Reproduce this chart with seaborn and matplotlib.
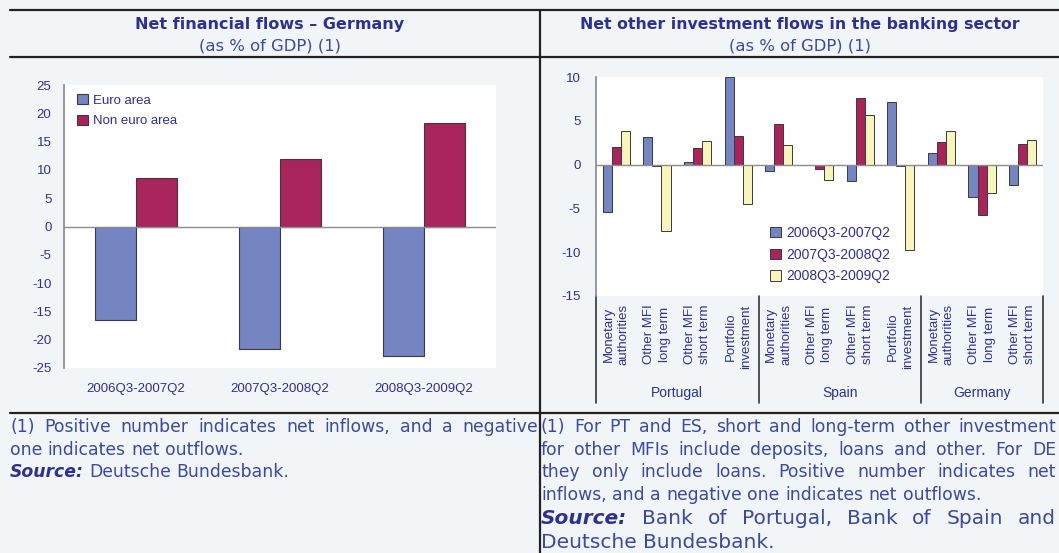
import numpy as np
import pandas as pd
import matplotlib
matplotlib.use('Agg')
import matplotlib.pyplot as plt
import matplotlib.transforms as mtransforms
from matplotlib import font_manager
import seaborn as sns

# Left chart: net financial flows, Germany (% of GDP)
periods = ['2006Q3-2007Q2', '2007Q3-2008Q2', '2008Q3-2009Q2']
areas = ['Euro area', 'Non euro area']
euro_area = [-16.6, -21.7, -22.8]
non_euro_area = [8.6, 12.0, 18.3]

# Right chart: net other investment flows in the banking sector (% of GDP)
countries = ['Portugal', 'Spain', 'Germany']
pt_items = ['Monetary\nauthorities', 'Other MFI\nlong term', 'Other MFI\nshort term', 'Portfolio\ninvestment']
es_items = ['Monetary\nauthorities', 'Other MFI\nlong term', 'Other MFI\nshort term', 'Portfolio\ninvestment']
de_items = ['Monetary\nauthorities', 'Other MFI\nlong term', 'Other MFI\nshort term']
windows = ['2006Q3-2007Q2', '2007Q3-2008Q2', '2008Q3-2009Q2']
flows_0607 = [-5.4, 3.2, 0.3, 10.0, -0.7, -0.1, -1.9, 7.2, 1.3, -3.7, -2.3]
flows_0708 = [2.0, -0.2, 1.9, 3.3, 4.6, -0.5, 7.6, -0.2, 2.6, -5.8, 2.3]
flows_0809 = [3.8, -7.6, 2.7, -4.5, 2.2, -1.8, 5.7, -9.7, 3.8, -3.2, 2.8]

BG = '#F2F5F7'
NAVY = '#2E3190'
TEXT = '#3B49A0'
BAR_COLORS = ['#7585C2', '#A8245A', '#F7F5BC']
EDGE = '#3a3a3a'

# narrow font for the axis text if there is one, else plain Liberation Sans a bit smaller
names = {f.name for f in font_manager.fontManager.ttflist}
if 'Liberation Sans Narrow' in names:
    TICK_FONT = ['Liberation Sans Narrow', 'DejaVu Sans']
    TS = 10.5
else:
    TICK_FONT = ['Liberation Sans', 'DejaVu Sans']
    TS = 9

sns.set_theme(style='white')
plt.rcParams['font.family'] = ['DejaVu Sans']
plt.rcParams['axes.unicode_minus'] = False

W, H = 1059, 553
fig = plt.figure(figsize=(W / 100, H / 100), dpi=100, facecolor=BG)


def fx(x):
    return x / W


def fy(y):
    return 1 - y / H


def axes_px(left, top, right, bottom):
    return fig.add_axes([fx(left), fy(bottom), (right - left) / W, (bottom - top) / H])


# frame lines of the page
for y in [10, 57, 413]:
    fig.add_artist(plt.Line2D([fx(10), 1], [fy(y), fy(y)], color='#222222', lw=1.6))
fig.add_artist(plt.Line2D([fx(540), fx(540)], [fy(10), 0], color='#222222', lw=1.6))

# headers
fig.text(fx(270), fy(24), 'Net financial flows \u2013 Germany', ha='center', va='center',
         fontsize=11.5, fontweight='bold', color=NAVY)
fig.text(fx(270), fy(46), '(as % of GDP) (1)', ha='center', va='center', fontsize=11.8, color=TEXT)
fig.text(fx(800), fy(24), 'Net other investment flows in the banking sector', ha='center', va='center',
         fontsize=11.3, fontweight='bold', color=NAVY)
fig.text(fx(800), fy(46), '(as % of GDP) (1)', ha='center', va='center', fontsize=11.8, color=TEXT)

# ---------------- left chart
df_left = pd.DataFrame({
    'period': periods * 2,
    'area': [areas[0]] * 3 + [areas[1]] * 3,
    'value': euro_area + non_euro_area,
})
ax1 = axes_px(64, 85, 496, 368)
sns.barplot(data=df_left, x='period', y='value', hue='area', hue_order=areas, order=periods,
            palette=BAR_COLORS[:2], saturation=1, width=0.57, edgecolor=EDGE, linewidth=0.8, ax=ax1)
ax1.set_facecolor('white')
ax1.set_ylim(-25, 25)
ax1.set_yticks(range(-25, 26, 5))
ax1.axhline(0, color='#8c8c8c', lw=1)
ax1.set_xlabel('')
ax1.set_ylabel('')
for s in ['top', 'right', 'bottom']:
    ax1.spines[s].set_visible(False)
ax1.spines['left'].set_color('#8c8c8c')
ax1.tick_params(axis='both', length=0, colors=NAVY, labelsize=TS + 0.5)
ax1.tick_params(axis='y', pad=9)
ax1.tick_params(axis='x', pad=11)
for lab in ax1.get_xticklabels() + ax1.get_yticklabels():
    lab.set_family(TICK_FONT)
h, l = ax1.get_legend_handles_labels()
ax1.legend(h, l, loc='upper left', bbox_to_anchor=(fx(77), fy(94)), bbox_transform=fig.transFigure,
           frameon=False, borderpad=0, borderaxespad=0, handlelength=0.8, handleheight=0.8,
           handletextpad=0.4, labelspacing=0.6, prop={'family': TICK_FONT, 'size': TS + 0.5},
           labelcolor=NAVY)

# ---------------- right chart
cats = []
labels = []
for c, items in zip(countries, [pt_items, es_items, de_items]):
    for it in items:
        cats.append(c + ' ' + it)
        labels.append(it)
df_right = pd.DataFrame({
    'cat': cats * 3,
    'window': [windows[0]] * len(cats) + [windows[1]] * len(cats) + [windows[2]] * len(cats),
    'value': flows_0607 + flows_0708 + flows_0809,
})
ax2 = axes_px(596, 77, 1043, 296)
sns.barplot(data=df_right, x='cat', y='value', hue='window', order=cats, hue_order=windows,
            palette=BAR_COLORS, saturation=1, width=0.67, edgecolor=EDGE, linewidth=0.7, ax=ax2)
ax2.set_facecolor('white')
ax2.set_ylim(-15, 10)
ax2.set_yticks(range(-15, 11, 5))
ax2.set_xlim(-0.5, len(cats) - 0.5)
ax2.axhline(0, color='#8c8c8c', lw=1)
ax2.set_xlabel('')
ax2.set_ylabel('')
for s in ['top', 'right', 'bottom']:
    ax2.spines[s].set_visible(False)
ax2.spines['left'].set_color('#8c8c8c')
ax2.tick_params(axis='both', length=0, colors=NAVY, labelsize=TS + 0.5)
ax2.tick_params(axis='y', pad=11)
ax2.tick_params(axis='x', pad=6)
ax2.set_xticks(range(len(cats)))
ax2.set_xticklabels(labels, rotation=90, va='top', ha='center', multialignment='center',
                    linespacing=1.35, fontsize=TS + 0.5)
for lab in ax2.get_xticklabels() + ax2.get_yticklabels():
    lab.set_family(TICK_FONT)

blend = mtransforms.blended_transform_factory(ax2.transData, ax2.transAxes)
bounds = [-0.5, 3.5, 7.5, 10.5]
for b in bounds:
    ax2.plot([b, b], [0, -0.49], transform=blend, color='#333333', lw=1.2, clip_on=False)
for i, c in enumerate(countries):
    ax2.text((bounds[i] + bounds[i + 1]) / 2, -0.444, c, transform=blend, ha='center', va='center',
             fontsize=TS + 1, color=NAVY, family=TICK_FONT)
h, l = ax2.get_legend_handles_labels()
ax2.legend(h, l, loc='upper left', bbox_to_anchor=(fx(770), fy(226)), bbox_transform=fig.transFigure,
           frameon=False, borderpad=0, borderaxespad=0, handlelength=0.8, handleheight=0.8,
           handletextpad=0.4, labelspacing=0.55, prop={'family': TICK_FONT, 'size': TS + 1},
           labelcolor=NAVY)


# ---------------- footnotes
def text_line(x0, y, words, size, x1=None, n_bold=0):
    r = fig.canvas.get_renderer()
    items = []
    for i, w in enumerate(words):
        style = dict(fontsize=size, color=TEXT, va='center', ha='left')
        if i < n_bold:
            style.update(fontweight='bold', fontstyle='italic', color=NAVY)
        t = fig.text(fx(x0), fy(y), w, **style)
        items.append((t, t.get_window_extent(r).width))
    p1 = fig.text(0, 0, 'x x', fontsize=size)
    p2 = fig.text(0, 0, 'xx', fontsize=size)
    space = p1.get_window_extent(r).width - p2.get_window_extent(r).width
    p1.remove()
    p2.remove()
    total = sum(wd for _, wd in items)
    gap = space
    if x1 is not None and len(items) > 1:
        gap = max((x1 - x0 - total) / (len(items) - 1), space * 0.6)
    x = x0
    for t, wd in items:
        t.set_x(fx(x))
        x += wd + gap


fs = 12.4
text_line(10, 427, '(1) Positive number indicates net inflows, and a negative'.split(), fs, x1=538)
text_line(10, 450, 'one indicates net outflows.'.split(), fs)
text_line(10, 472, 'Source: Deutsche Bundesbank.'.split(), fs, n_bold=1)

text_line(541, 427, '(1) For PT and ES, short and long-term other investment'.split(), fs, x1=1056)
text_line(541, 450, 'for other MFIs include deposits, loans and other. For DE'.split(), fs, x1=1056)
text_line(541, 472, 'they only include loans. Positive number indicates net'.split(), fs, x1=1056)
text_line(541, 495, 'inflows, and a negative one indicates net outflows.'.split(), fs)
text_line(541, 519, 'Source: Bank of Portugal, Bank of Spain and'.split(), 14.5, x1=1056, n_bold=1)
text_line(541, 543, 'Deutsche Bundesbank.'.split(), 14.5)

fig.savefig('out.png', dpi=100, facecolor=BG)
